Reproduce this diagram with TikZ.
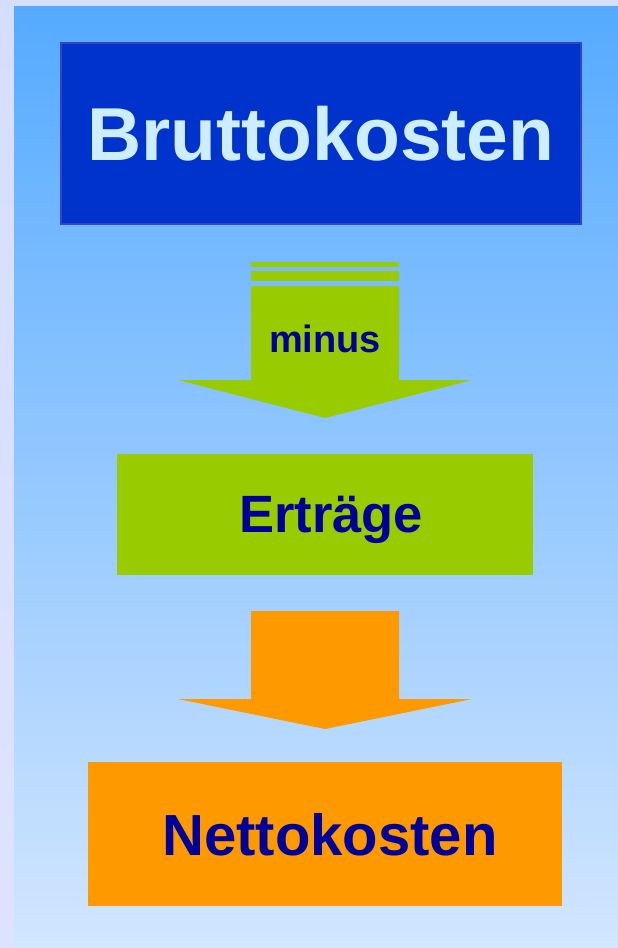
\documentclass[tikz,border=0pt]{standalone}
\usepackage{fontspec}
\setmainfont{Liberation Sans}
\usetikzlibrary {positioning}

\definecolor{bluebox}{HTML}{0033CC}
\definecolor{blueline}{HTML}{3344CC}
\definecolor{paletext}{HTML}{CCEEFF}
\definecolor{darktext}{HTML}{000099}
\definecolor{greenbox}{HTML}{99CC00}
\definecolor{orangebox}{HTML}{FF9900}

\newcommand\flowarrow[4]{%
  \fill[#1] (#2) ++(-74,0) -- ++(148,0) -- ++(0,#3) -- ++(73,0)
    -- ++(-147,#4) -- ++(-147,-#4) -- ++(73,0) -- cycle;}

\begin{document}
\begin{tikzpicture}[x=1pt,y=-1pt,node distance=380pt,on grid,
      every node/.style={text depth=0pt,inner sep=0pt},
      box/.style={rectangle,font=\bfseries,text=darktext}]
      \useasboundingbox (0,0) rectangle (618,948);
      % background
      \shade[top color={rgb,255:red,214;green,222;blue,255},
        middle color={rgb,255:red,154;green,173;blue,255},
        bottom color={rgb,255:red,221;green,227;blue,255}] (0,0) rectangle (14,948);
      \fill[fill={rgb,255:red,213;green,222;blue,255}] (14,0) rectangle (618,6);
      \shade[top color={rgb,255:red,85;green,170;blue,255},
        bottom color={rgb,255:red,210;green,230;blue,255}] (14,6) rectangle (618,948);

      \node[box, fill=bluebox, draw=blueline, line width=1.2pt, text=paletext,
        minimum width=520pt, minimum height=181pt,
        font=\bfseries\fontsize{75}{80}\selectfont] (brutto) at (321,133.5) {Bruttokosten};
      \node[box, fill=greenbox, minimum width=416pt, minimum height=121pt,
        font=\bfseries\fontsize{52.5}{60}\selectfont]
        (ertraege) [below=380.5pt of brutto, xshift=4pt] {\hspace*{12pt}Erträge};
      \node[box, fill=orangebox, minimum width=474pt, minimum height=144pt,
        font=\bfseries\fontsize{58}{64}\selectfont]
        (netto) [below=320pt of ertraege] {\hspace*{10pt}Nettokosten};

      % arrows
      \coordinate (top1) at (325,286);
      \coordinate (top2) at (325,611);
      \fill[greenbox] (251,262) rectangle (399,267);
      \fill[greenbox] (251,271) rectangle (399,281);
      \flowarrow{greenbox}{top1}{94}{38}
      \flowarrow{orangebox}{top2}{88}{30}
      \node[font=\bfseries\fontsize{38}{42}\selectfont, text=darktext]
        (minus) at (325,339) {minus};
    \end{tikzpicture}
\end{document}
